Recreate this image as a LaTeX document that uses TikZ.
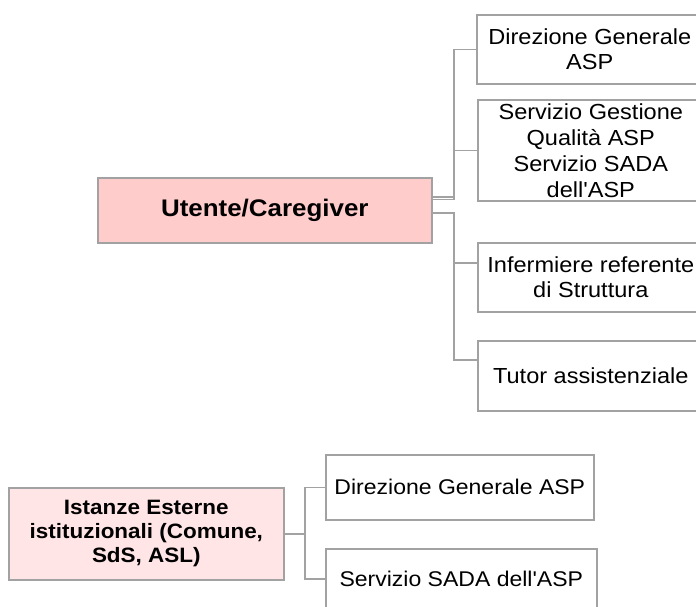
\documentclass[tikz,border=0pt]{standalone}
\usepackage{fontspec}
\setmainfont{Liberation Sans}[FakeStretch=1.08,Ligatures=TeXOff]
\definecolor{edgegrey}{HTML}{A2A2A2}
\definecolor{rootfill}{HTML}{FFCCCC}
\definecolor{extfill}{HTML}{FFE5E5}
\tikzset{
  box/.style={draw=edgegrey, line width=1.6pt, fill=white, anchor=north west,
    inner sep=0pt, align=center, font=\fontsize{21.8}{25.5}\selectfont},
  rootbox/.style={box, fill=rootfill, font=\bfseries\fontsize{24}{26}\selectfont},
  extbox/.style={box, fill=extfill, font=\bfseries\fontsize{20.8}{24}\selectfont},
  smallbox/.style={box, font=\fontsize{21.3}{24}\selectfont},
  link/.style={draw=edgegrey, line width=1.6pt},
}
\begin{document}
\begin{tikzpicture}[x=1pt,y=-1pt]
\useasboundingbox (0,0) rectangle (696,606);
\clip (0,0) rectangle (696,606);

% user / caregiver tree
\node[rootbox, minimum width=334pt, minimum height=65pt] (u) at (97,177) {Utente/Caregiver};
\node[box, minimum width=226pt, minimum height=69pt] (d1) at (476,14) {Direzione Generale\\ASP};
\node[box, minimum width=226pt, minimum height=101pt, font=\fontsize{21.8}{26}\selectfont] (d2) at (477,99)
  {Servizio Gestione\\Qualità ASP\\Servizio SADA\\dell'ASP};
\node[box, minimum width=226pt, minimum height=69pt] (d3) at (477,242) {Infermiere referente\\di Struttura};
\node[box, minimum width=226pt, minimum height=70pt] (d4) at (477,340) {Tutor assistenziale};

\draw[link] ([yshift=13.5pt]u.east) -| ([xshift=-22pt]d1.west) -- (d1.west);
\draw[link] ([yshift=11pt]u.east) -| ([xshift=-23pt]d2.west) -- (d2.west);
\draw[link] ([yshift=-2.5pt]u.east) -| ([xshift=-23pt,yshift=14.5pt]d3.west) -- ([yshift=14.5pt]d3.west);
\draw[link] ([yshift=-2.5pt]u.east) -| ([xshift=-23pt,yshift=16pt]d4.west) -- ([yshift=16pt]d4.west);

% external institutions tree
\node[extbox, minimum width=275pt, minimum height=92pt] (e) at (8,487)
  {Istanze Esterne\\istituzionali (Comune,\\SdS, ASL)};
\node[smallbox, minimum width=268pt, minimum height=65pt] (b1) at (325,454) {Direzione Generale ASP};
\node[smallbox, minimum width=271pt, minimum height=60pt] (b2) at (325,548) {Servizio SADA dell'ASP};

\draw[link] (e.east) -| ([xshift=-20pt]b1.west) -- (b1.west);
\draw[link] (e.east) -| ([xshift=-20pt]b2.west) -- (b2.west);
\end{tikzpicture}
\end{document}
